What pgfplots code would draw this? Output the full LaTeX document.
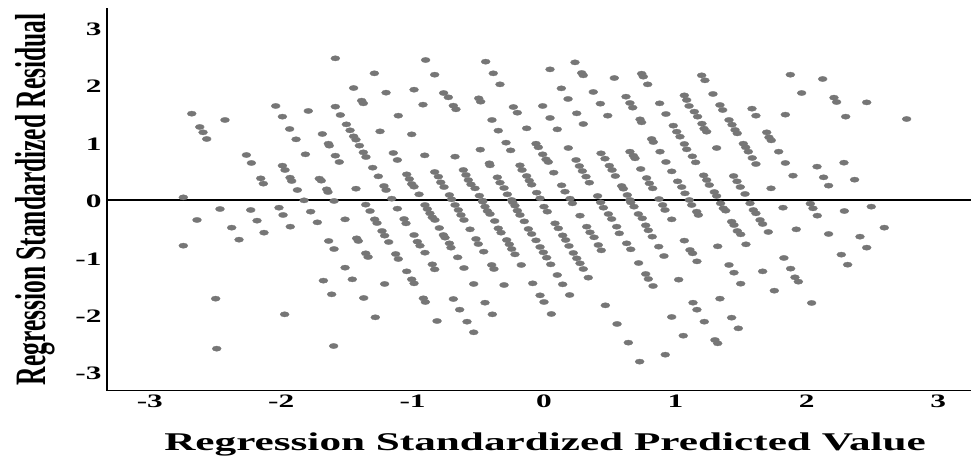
\documentclass[border=0pt]{standalone}
\usepackage{fontspec}
\setmainfont{Liberation Serif}
\usepackage{pgfplots}
\usepackage{graphicx}
\pgfplotsset{compat=1.18}
\definecolor{dotgray}{HTML}{767676}
\newcommand{\sx}[1]{\scalebox{1.65}[1]{#1}}
\begin{document}
\begin{tikzpicture}
\useasboundingbox (0,0) rectangle (971pt,456pt);
\begin{axis}[
  at={(107pt,65.5pt)}, anchor=south west,
  scale only axis, width=864pt, height=382.5pt,
  xmin=-3.326, xmax=3.25, ymin=-3.319, ymax=3.345,
  axis lines=left,
  x axis line style={-,line width=1.6pt,black},
  y axis line style={-,line width=2.4pt,black},
  major tick length=0pt,
  xtick={-3,-2,-1,0,1,2,3},
  ytick={-3,-2,-1,0,1,2,3},
  xticklabels={\sx{-3},\sx{-2},\sx{-1},\sx{0},\sx{1},\sx{2},\sx{3}},
  yticklabels={\sx{-3},\sx{-2},\sx{-1},\sx{0},\sx{1},\sx{2},\sx{3}},
  tick label style={font=\fontsize{19}{19}\selectfont\bfseries},
  xticklabel style={yshift=-1pt},
  yticklabel style={yshift=-1.5pt,xshift=-2pt},
  xlabel={\scalebox{1.695}[1]{Regression Standardized Predicted Value}},
  xlabel style={font=\fontsize{25.5}{25.5}\selectfont\bfseries,at={(rel axis cs:0.507,-0.14)},anchor=center},
  ylabel={\scalebox{1.7}[1]{\rotatebox{90}{Regression Standardized Residual}}},
  ylabel style={rotate=-90,font=\fontsize{25.5}{25.5}\selectfont\bfseries,at={(rel axis cs:-0.0835,0.5)},anchor=center},
  clip=true,
]
\addplot[only marks, color=dotgray, mark=*, mark size=2.65pt, mark options={fill=dotgray,draw=dotgray,line width=0.3pt,xscale=1.7}] table {
-1.588 2.468
-1.291 2.207
-1.449 1.951
-1.202 1.870
-1.388 1.731
-1.375 1.684
-2.042 1.638
-1.588 1.626
-1.794 1.551
-1.550 1.481
-1.109 1.469
-2.681 1.504
-1.991 1.452
-2.428 1.394
-1.504 1.318
-2.620 1.272
-1.936 1.237
-1.476 1.214
-2.595 1.179
-1.248 1.196
-1.687 1.150
-1.449 1.109
-1.431 1.051
-2.567 1.063
-1.887 1.057
-1.641 0.981
-1.634 0.947
-1.405 0.947
-1.375 0.830
-1.147 0.819
-1.816 0.796
-2.265 0.784
-1.588 0.772
-1.355 0.749
-1.116 0.697
-2.227 0.645
-1.558 0.662
-1.991 0.598
-1.971 0.523
-1.304 0.563
-1.261 0.412
-2.156 0.377
-2.136 0.285
-1.933 0.389
-1.920 0.331
-1.710 0.372
-1.695 0.337
-1.218 0.244
-1.202 0.174
-1.654 0.186
-1.644 0.139
-1.877 0.174
-1.431 0.197
-2.745 0.046
-1.159 0.023
-1.826 -0.006
-1.598 -0.017
-2.466 -0.157
-2.232 -0.174
-2.017 -0.134
-1.986 -0.261
-1.776 -0.203
-1.357 -0.081
-1.324 -0.192
-1.116 -0.151
-2.641 -0.348
-2.184 -0.360
-2.377 -0.482
-1.931 -0.465
-1.725 -0.389
-1.514 -0.337
-1.289 -0.337
-1.271 -0.401
-2.131 -0.569
-1.233 -0.540
-1.213 -0.621
-2.321 -0.691
-1.639 -0.714
-1.426 -0.668
-1.413 -0.714
-1.182 -0.732
-2.745 -0.796
-1.598 -0.854
-1.357 -0.929
-1.339 -0.993
-1.129 -0.941
-1.109 -1.028
-1.514 -1.179
-1.679 -1.405
-1.459 -1.382
-1.213 -1.463
-1.616 -1.643
-2.499 -1.719
-1.372 -1.707
-1.974 -1.992
-1.284 -2.044
-2.491 -2.590
-1.601 -2.544
-0.901 2.439
-0.444 2.410
0.236 2.398
0.046 2.276
-0.832 2.183
-0.386 2.207
0.287 2.213
0.299 2.172
0.535 2.125
0.743 2.201
0.756 2.149
-0.335 2.015
0.789 2.015
-0.989 1.922
0.132 1.945
-0.764 1.864
-0.728 1.789
0.375 1.882
0.624 1.800
1.068 1.823
1.086 1.742
1.104 1.638
0.183 1.760
-0.497 1.771
-0.482 1.713
-0.921 1.661
0.429 1.678
0.654 1.690
0.675 1.609
0.880 1.684
-0.690 1.643
-0.670 1.580
-0.233 1.620
-0.203 1.521
-0.010 1.638
0.249 1.510
0.485 1.469
0.928 1.498
-0.396 1.394
0.046 1.429
0.731 1.405
0.743 1.353
-0.348 1.208
-0.132 1.249
0.101 1.231
0.299 1.324
0.984 1.295
1.010 1.190
1.035 1.103
-1.007 1.144
0.819 1.063
0.832 1.010
-0.289 0.999
-0.061 0.981
-0.043 0.918
1.068 0.976
1.086 0.883
-0.485 0.877
-0.254 0.865
0.185 0.906
0.883 0.842
0.434 0.813
0.654 0.842
0.680 0.772
0.693 0.726
-0.908 0.778
-0.677 0.755
-0.010 0.796
0.015 0.708
0.033 0.662
0.244 0.697
0.464 0.720
0.928 0.662
-0.416 0.639
-0.411 0.604
-0.183 0.604
-0.167 0.523
0.269 0.592
0.292 0.505
0.497 0.598
0.518 0.523
0.543 0.418
0.736 0.540
0.972 0.499
0.074 0.476
-0.614 0.523
-0.594 0.436
-0.576 0.348
-0.556 0.273
-0.525 0.203
-0.832 0.488
-0.804 0.407
-0.786 0.308
-0.761 0.226
-1.045 0.447
-1.025 0.366
-1.007 0.279
-0.989 0.232
-0.355 0.395
-0.335 0.302
-0.304 0.209
-0.132 0.418
-0.112 0.337
-0.094 0.267
0.320 0.407
0.345 0.302
0.781 0.383
0.802 0.290
0.827 0.203
1.017 0.325
1.048 0.226
1.073 0.116
0.134 0.256
0.160 0.145
0.591 0.244
0.604 0.197
-0.056 0.128
-0.951 0.099
-0.720 0.087
-0.279 0.099
-0.492 0.075
0.634 0.087
0.408 0.070
0.875 0.017
0.198 0.023
-0.030 0.029
-0.703 0.012
-0.246 0.000
-0.467 -0.012
0.654 0.000
-0.906 -0.087
-0.888 -0.157
-0.868 -0.232
-0.850 -0.302
-0.830 -0.348
-1.065 -0.331
-1.050 -0.407
-0.797 -0.488
-0.989 -0.610
-0.964 -0.726
-0.944 -0.796
-0.906 -0.918
-0.677 -0.087
-0.652 -0.174
-0.632 -0.261
-0.609 -0.348
-0.563 -0.511
-0.766 -0.610
-0.753 -0.656
-0.720 -0.755
-0.708 -0.830
-0.657 -0.999
-0.518 -0.679
-0.500 -0.767
-0.459 -0.900
-0.850 -1.121
-0.832 -1.208
-0.609 -1.185
-0.398 -1.132
-0.381 -1.202
-0.173 -1.132
-1.045 -1.243
-1.007 -1.382
-0.989 -1.452
-0.535 -1.463
-0.304 -1.481
-0.086 -1.452
-0.918 -1.713
-0.903 -1.777
-0.690 -1.725
-0.449 -1.789
-0.642 -1.911
-0.393 -1.992
-0.030 -1.661
0.000 -1.777
0.195 -1.655
0.056 -1.986
-0.814 -2.108
-0.586 -2.120
-0.535 -2.305
0.467 -1.835
0.556 -2.160
0.642 -2.485
0.728 -2.816
0.923 -2.695
1.060 -2.364
0.972 -2.038
1.025 -1.388
0.830 -1.498
0.774 -1.289
0.794 -1.376
0.720 -1.098
0.913 -0.976
0.873 -0.813
1.068 -0.708
-0.467 -0.029
-0.449 -0.116
-0.431 -0.192
-0.411 -0.244
-0.375 -0.366
-0.348 -0.494
-0.327 -0.569
-0.284 -0.697
-0.264 -0.772
-0.246 -0.854
-0.221 -0.947
-0.238 -0.041
-0.221 -0.099
-0.203 -0.186
-0.183 -0.261
-0.150 -0.372
-0.119 -0.505
-0.094 -0.592
-0.061 -0.703
-0.030 -0.819
-0.005 -0.912
0.020 -1.005
0.051 -1.121
0.101 -1.307
0.142 -1.469
0.000 -0.116
0.025 -0.203
0.084 -0.407
0.109 -0.494
0.142 -0.616
0.165 -0.697
0.190 -0.801
0.223 -0.923
0.249 -1.016
0.274 -1.103
0.299 -1.202
0.337 -1.353
0.216 -0.058
0.274 -0.273
0.325 -0.465
0.350 -0.563
0.381 -0.650
0.413 -0.784
0.436 -0.877
0.431 -0.041
0.452 -0.134
0.490 -0.244
0.515 -0.331
0.553 -0.465
0.573 -0.581
0.629 -0.755
0.660 -0.859
0.660 -0.041
0.685 -0.116
0.718 -0.244
0.748 -0.319
0.774 -0.441
0.794 -0.528
0.824 -0.639
0.903 -0.087
0.921 -0.174
0.972 -0.337
1.200 2.172
1.225 2.085
1.875 2.183
2.121 2.108
1.286 1.847
1.961 1.864
2.207 1.783
2.227 1.707
2.456 1.701
1.339 1.655
1.360 1.568
1.583 1.591
1.613 1.469
1.837 1.487
2.296 1.452
2.760 1.411
1.144 1.539
1.169 1.452
1.408 1.394
1.431 1.312
1.202 1.330
1.218 1.243
1.238 1.190
1.454 1.220
1.471 1.161
1.695 1.179
1.712 1.092
1.730 1.039
1.314 0.906
1.517 0.981
1.535 0.918
1.555 0.842
1.585 0.732
1.613 0.627
1.786 0.842
1.837 0.645
1.129 0.761
1.154 0.656
2.078 0.581
2.283 0.650
1.895 0.424
2.128 0.395
2.364 0.354
2.166 0.250
1.215 0.430
1.238 0.348
1.258 0.261
1.443 0.418
1.469 0.325
1.494 0.226
1.728 0.203
1.530 0.105
1.296 0.139
1.314 0.070
1.106 0.000
1.124 -0.087
1.162 -0.203
1.175 -0.261
1.344 -0.058
1.365 -0.145
1.383 -0.186
1.568 -0.058
1.593 -0.174
1.613 -0.232
1.819 -0.134
2.027 -0.064
2.047 -0.145
2.080 -0.273
2.286 -0.192
2.491 -0.116
1.428 -0.377
1.446 -0.436
1.644 -0.348
1.664 -0.418
1.471 -0.540
1.497 -0.598
1.707 -0.557
1.920 -0.511
2.166 -0.592
2.405 -0.639
2.590 -0.482
1.322 -0.807
1.537 -0.772
2.456 -0.830
1.111 -0.871
1.131 -0.929
1.164 -1.069
1.408 -1.132
1.446 -1.266
1.664 -1.243
1.826 -1.010
1.877 -1.196
2.263 -0.952
2.311 -1.127
1.910 -1.347
1.936 -1.423
1.497 -1.458
1.753 -1.580
1.339 -1.719
1.134 -1.789
1.164 -1.911
2.037 -1.794
1.428 -2.050
1.220 -2.120
1.479 -2.236
1.301 -2.439
1.322 -2.497
};
\addplot[black, line width=1.5pt] coordinates {(-3.326,0) (3.25,0)};
\end{axis}
\end{tikzpicture}
\end{document}
